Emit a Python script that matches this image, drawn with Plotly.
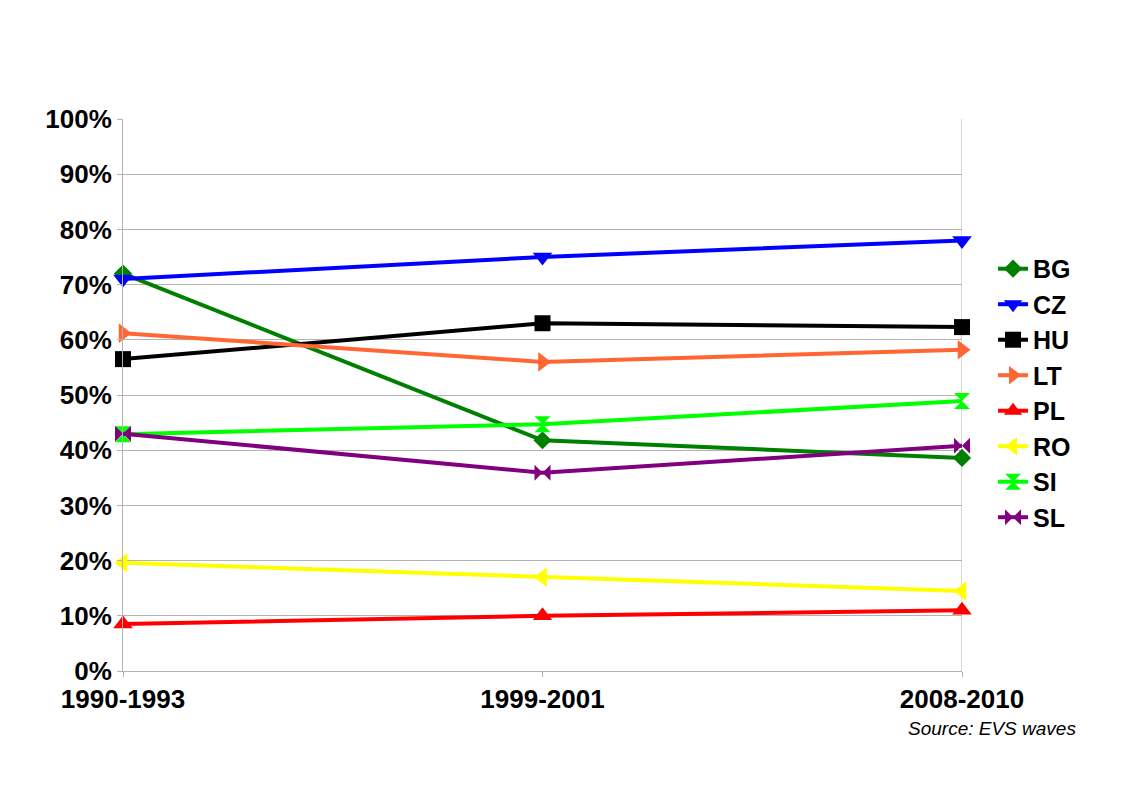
import plotly.graph_objects as go

waves = ["1990-1993", "1999-2001", "2008-2010"]
countries = ["BG", "CZ", "HU", "LT", "PL", "RO", "SI", "SL"]
bg = [72.0, 41.8, 38.6]
cz = [71.0, 75.0, 78.0]
hu = [56.5, 63.0, 62.3]
lt = [61.2, 56.0, 58.2]
pl = [8.5, 10.0, 11.0]
ro = [19.6, 17.0, 14.5]
si = [42.9, 44.7, 48.9]
sl = [43.0, 35.9, 40.8]
yticks = [0, 10, 20, 30, 40, 50, 60, 70, 80, 90, 100]

series = [bg, cz, hu, lt, pl, ro, si, sl]
colors = ["#008000", "#0000ff", "#000000", "#ff6633", "#ff0000", "#ffff00", "#00ff00", "#800080"]
symbols = ["diamond", "triangle-down", "square", "triangle-right", "triangle-up",
           "triangle-left", "hourglass", "bowtie"]
sizes = [14, 17, 16, 17, 17, 17, 16, 16]

FAM = "Liberation Sans, Arial, sans-serif"

fig = go.Figure()
for name, vals, c, s, sz in zip(countries, series, colors, symbols, sizes):
    fig.add_trace(go.Scatter(
        x=[0, 1, 2], y=vals, name=name, mode="lines+markers", legendgroup=name,
        line=dict(color=c, width=4), cliponaxis=False,
        marker=dict(symbol=s, size=sz, color=c, line=dict(width=0)),
    ))

fig.update_layout(
    width=1123, height=794,
    paper_bgcolor="white", plot_bgcolor="white",
    margin=dict(l=115, r=169, t=111, b=131),
    showlegend=True,
    legend=dict(x=1.037, y=0.77, xanchor="left", yanchor="top",
                font=dict(family=FAM, size=25, color="black", weight="bold"),
                tracegroupgap=0, itemwidth=30, bgcolor="rgba(0,0,0,0)"),
    xaxis=dict(range=[0, 2], tickvals=[0, 1, 2], ticktext=waves,
               showgrid=False, showline=True, linecolor="#b3b3b3", linewidth=1,
               mirror=False, ticks="outside", ticklen=5, tickcolor="#b3b3b3",
               tickfont=dict(family=FAM, size=26, color="black", weight="bold"),
               zeroline=False, fixedrange=True),
    yaxis=dict(range=[0, 100], tickvals=yticks, ticktext=[f"{v}%" for v in yticks],
               showgrid=True, gridcolor="#b3b3b3", gridwidth=1,
               showline=True, linecolor="#b3b3b3", linewidth=1,
               ticks="outside", ticklen=5, tickcolor="#b3b3b3",
               tickfont=dict(family=FAM, size=26, color="black", weight="bold"),
               zeroline=False, fixedrange=True),
)
# right border line
fig.add_shape(type="line", xref="x", yref="paper", x0=2, x1=2, y0=0, y1=1,
              line=dict(color="#b3b3b3", width=1), layer="below")
fig.add_annotation(text="<i>Source: EVS waves</i>", xref="paper", yref="paper",
                   x=1.138, y=-0.104, xanchor="right", yanchor="middle", showarrow=False,
                   font=dict(family=FAM, size=19, color="black"))
fig.write_html("out.html")
